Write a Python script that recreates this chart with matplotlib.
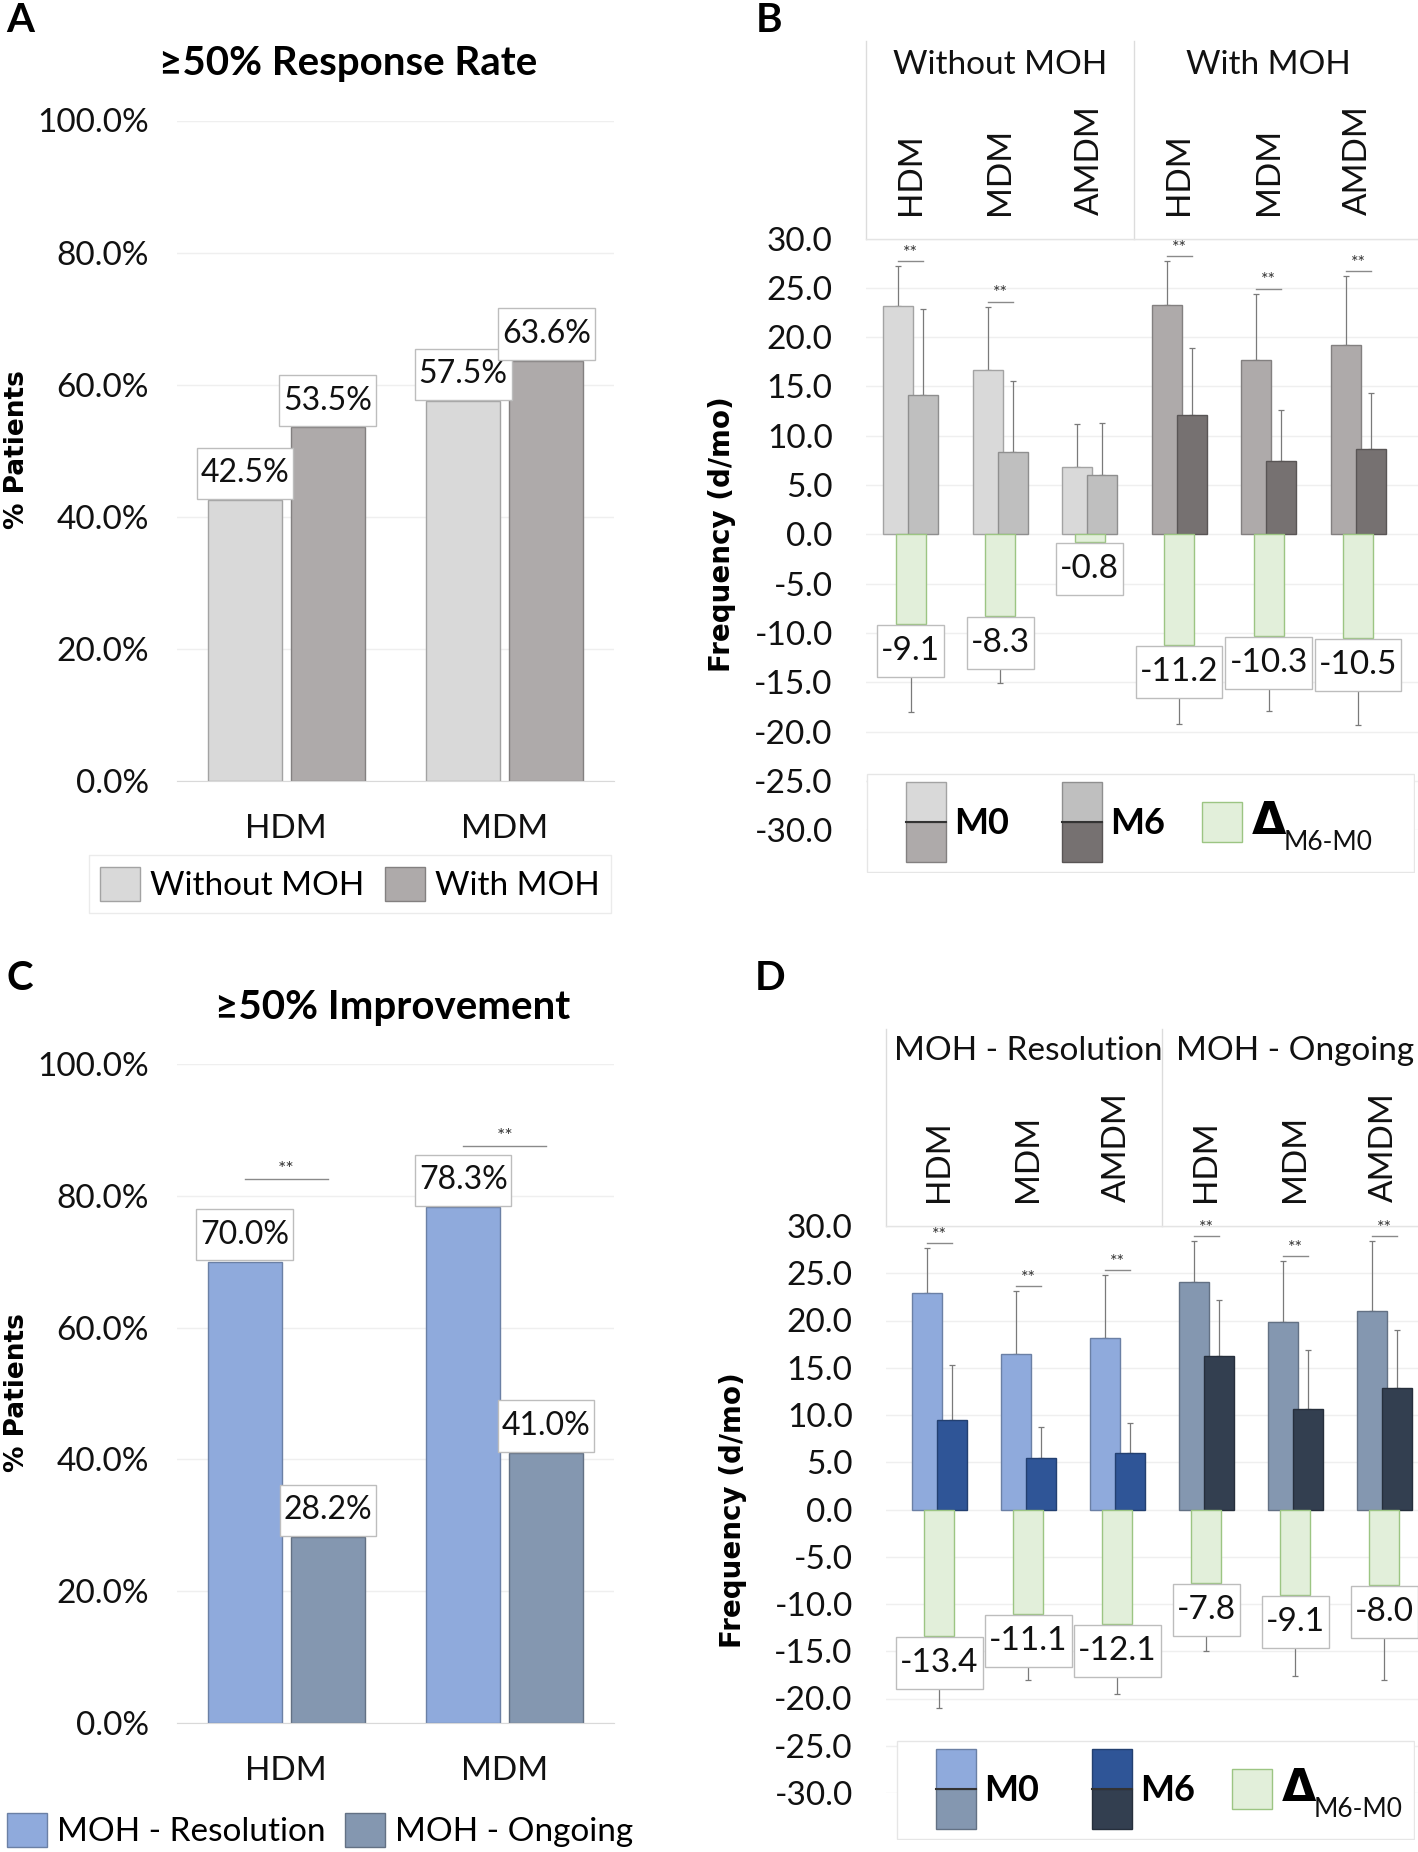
import matplotlib
matplotlib.use('Agg')
import matplotlib.pyplot as plt
import matplotlib.colors as mcolors
import matplotlib.transforms as mtransforms
from matplotlib.patches import Rectangle, Patch
from matplotlib.path import Path
import numpy as np

W, H = 1418, 1852
plt.rcParams['font.family'] = ['Lato', 'DejaVu Sans']

# ---------------- data ----------------
pct_cats = ['HDM', 'MDM']
a_without = [0.425, 0.575]
a_with = [0.535, 0.636]
c_resolution = [0.700, 0.783]
c_ongoing = [0.282, 0.410]
c_sig_y = [0.825, 0.875]

freq_cats = ['HDM', 'MDM', 'AMDM', 'HDM', 'MDM', 'AMDM']

b_groups = ['Without MOH', 'With MOH']
b_m0 = [23.2, 16.7, 6.8, 23.3, 17.7, 19.2]
b_m0_sd = [4.0, 6.4, 4.4, 4.4, 6.7, 7.0]
b_m6 = [14.1, 8.4, 6.0, 12.1, 7.4, 8.7]
b_m6_sd = [8.8, 7.2, 5.3, 6.8, 5.2, 5.6]
b_delta = [-9.1, -8.3, -0.8, -11.2, -10.3, -10.5]
b_delta_sd = [8.9, 6.8, 3.0, 8.0, 7.6, 8.8]
b_sig = [True, True, False, True, True, True]

d_groups = ['MOH - Resolution', 'MOH - Ongoing']
d_m0 = [22.9, 16.5, 18.1, 24.1, 19.8, 21.0]
d_m0_sd = [4.75, 6.6, 6.7, 4.3, 6.5, 7.4]
d_m6 = [9.5, 5.4, 6.0, 16.2, 10.6, 12.9]
d_m6_sd = [5.8, 3.3, 3.15, 6.0, 6.3, 6.1]
d_delta = [-13.4, -11.1, -12.1, -7.8, -9.1, -8.0]
d_delta_sd = [7.6, 6.9, 7.4, 7.2, 8.5, 10.0]
d_sig = [True, True, True, True, True, True]

# ---------------- colours ----------------
GRAY_L, GRAY_M = '#d9d9d9', '#aeaaaa'
GRAY_L6, GRAY_D6 = '#bfbfbf', '#767171'
BLUE_L, BLUE_G = '#8faadc', '#8497b0'
BLUE_D, NAVY = '#2f5597', '#333f50'
GREEN, GREEN_E = '#e2efda', '#9cc583'
GRID = '#efefef'
TXT = '#111111'


def darker(c, f=0.75):
    r, g, b = mcolors.to_rgb(c)
    return (r * f, g * f, b * f)


def box(px):
    # px = (left, top, right, bottom) in figure pixels
    l, t, r, b = px
    return [l / W, 1 - b / H, (r - l) / W, (b - t) / H]


def label_box(x0, y0, width, height, mutation_size):
    # data label frame: little side padding, more top/bottom padding
    px, py = 0.12 * mutation_size, 0.33 * mutation_size
    l, b, r, t = x0 - px, y0 - py, x0 + width + px, y0 + height + py
    return Path([(l, b), (r, b), (r, t), (l, t), (l, b)], closed=True)


LBL_BOX = dict(boxstyle=label_box, fc='white', ec='#bdbdbd', lw=1)

fig = plt.figure(figsize=(W / 100, H / 100), dpi=100)


def pct_panel(ax, left_vals, right_vals, left_col, right_col):
    x = np.arange(len(pct_cats))
    ax.bar(x - 0.19, left_vals, 0.34, color=left_col, edgecolor=darker(left_col), lw=1, zorder=2)
    ax.bar(x + 0.19, right_vals, 0.34, color=right_col, edgecolor=darker(right_col), lw=1, zorder=2)
    for xs, vals in ((x - 0.19, left_vals), (x + 0.19, right_vals)):
        for xi, v in zip(xs, vals):
            ax.annotate(f'{v * 100:.1f}%', (xi, v), xytext=(0, 8.5), textcoords='offset points',
                        ha='center', va='bottom', fontsize=23, color=TXT, zorder=5, bbox=LBL_BOX)
    ax.set_xlim(-0.5, 1.5)
    ax.set_ylim(0, 1.0)
    ax.set_yticks(np.arange(0, 1.01, 0.2))
    ax.set_yticklabels([f'{v * 100:.1f}%' for v in np.arange(0, 1.01, 0.2)])
    ax.set_xticks(x)
    ax.set_xticklabels(pct_cats)
    ax.tick_params(axis='y', length=0, pad=20, labelsize=24, labelcolor=TXT)
    ax.tick_params(axis='x', length=0, pad=24, labelsize=24, labelcolor=TXT)
    for s in ('top', 'right', 'left'):
        ax.spines[s].set_visible(False)
    ax.spines['bottom'].set_color('#d9d9d9')
    ax.yaxis.grid(True, color=GRID, lw=1)
    ax.set_axisbelow(True)


def freq_panel(ax, m0, m0_sd, m6, m6_sd, delta, delta_sd, sig, m0_cols, m6_cols,
               xlim, groups, head):
    x = np.arange(len(m0))
    zero = np.zeros(len(m0))
    ax.bar(x - 0.14, m0, 0.335, color=m0_cols, edgecolor=[darker(c) for c in m0_cols], lw=1, zorder=2)
    ax.bar(x + 0.14, m6, 0.335, color=m6_cols, edgecolor=[darker(c) for c in m6_cols], lw=1, zorder=2)
    ax.bar(x, delta, 0.335, color=GREEN, edgecolor=GREEN_E, lw=1, zorder=2)
    ek = dict(fmt='none', ecolor='#7a7a7a', elinewidth=0.9, capsize=2.5, capthick=0.9, zorder=1.5)
    ax.errorbar(x - 0.14, m0, yerr=[zero, m0_sd], **ek)
    ax.errorbar(x + 0.14, m6, yerr=[zero, m6_sd], **ek)
    ax.errorbar(x, delta, yerr=[delta_sd, zero], **ek)
    for xi, d in zip(x, delta):
        ax.annotate(f'{d:.1f}', (xi, d), xytext=(0, -8.5), textcoords='offset points',
                    ha='center', va='top', fontsize=24, color=TXT, zorder=5, bbox=LBL_BOX)
    for xi, a, sa, b, sb, s in zip(x, m0, m0_sd, m6, m6_sd, sig):
        if not s:
            continue
        y = max(a + sa, b + sb) + 0.5
        ax.plot([xi - 0.14, xi + 0.14], [y, y], color='#8a8a8a', lw=1, zorder=3)
        ax.text(xi, y + 0.05, '**', ha='center', va='bottom', fontsize=13, color='#333333')
    ax.set_xlim(*xlim)
    ax.set_ylim(-30, 30)
    ticks = np.arange(-30, 31, 5)
    ax.set_yticks(ticks)
    ax.set_yticklabels([f'{t:.1f}' for t in ticks])
    ax.set_xticks([])
    ax.tick_params(axis='y', length=0, pad=24, labelsize=24, labelcolor=TXT)
    for s in ax.spines.values():
        s.set_visible(False)
    ax.yaxis.grid(True, color=GRID, lw=1)
    ax.set_axisbelow(True)
    # header with group / category names
    top, text_y, rot_y = head
    tr = mtransforms.blended_transform_factory(ax.transData, ax.transAxes)
    for xv in (xlim[0], 2.5):
        ax.plot([xv, xv], [1, top], transform=tr, clip_on=False, color='#dcdcdc', lw=1)
    ax.plot([xlim[0], xlim[1]], [1, 1], transform=tr, clip_on=False, color='#e4e4e4', lw=1)
    for gx, g in zip((1, 4), groups):
        ax.text(gx, text_y, g, transform=tr, ha='center', va='center', fontsize=24, color=TXT)
    for xi, c in zip(x, freq_cats):
        ax.text(xi, rot_y, c, transform=tr, rotation=90, ha='center', va='bottom',
                fontsize=24, color=TXT)


def freq_legend(x0, y0, x1, cols):
    y1 = y0 + 100
    lx = fig.add_axes(box((x0, y0, x1, y1)), zorder=5)
    lx.set_xlim(x0, x1)
    lx.set_ylim(y1, y0)
    lx.axis('off')
    lx.add_patch(Rectangle((x0 + 1, y0 + 1), x1 - x0 - 2, 98, fc='white', ec='#e6e6e6', lw=1))
    m0t, m0b, m6t, m6b = cols
    for px, ct, cb, lab in ((x0 + 40, m0t, m0b, 'M0'), (x0 + 196, m6t, m6b, 'M6')):
        lx.add_patch(Rectangle((px, y0 + 9), 40, 40, fc=ct, ec=darker(ct), lw=1))
        lx.add_patch(Rectangle((px, y0 + 49), 40, 40, fc=cb, ec=darker(cb), lw=1))
        lx.plot([px, px + 40], [y0 + 49, y0 + 49], color='#333333', lw=1.5)
        lx.text(px + 48, y0 + 51, lab, ha='left', va='center', fontsize=26,
                fontweight='bold', color='black')
    lx.add_patch(Rectangle((x0 + 336, y0 + 29), 40, 40, fc=GREEN, ec=GREEN_E, lw=1))
    lx.text(x0 + 386, y0 + 49, 'Δ', ha='left', va='center', fontsize=32,
            fontweight='bold', family='DejaVu Sans', color='black')
    lx.text(x0 + 418, y0 + 70, 'M6-M0', ha='left', va='center', fontsize=19, color=TXT)


# ---------------- panel A ----------------
axA = fig.add_axes(box((177, 120.5, 614, 780.6)))
pct_panel(axA, a_without, a_with, GRAY_L, GRAY_M)
legA = axA.legend([Patch(fc=GRAY_L, ec=darker(GRAY_L)), Patch(fc=GRAY_M, ec=darker(GRAY_M))],
                  ['Without MOH', 'With MOH'], loc='center', ncol=2,
                  bbox_to_anchor=(350 / W, 1 - 884 / H), bbox_transform=fig.transFigure,
                  fontsize=24, fancybox=False, edgecolor='#e6e6e6', handlelength=1.2,
                  handleheight=1.2, handletextpad=0.3, columnspacing=0.6, borderpad=0.35)
legA.get_frame().set_linewidth(1)

# ---------------- panel C ----------------
axC = fig.add_axes(box((177, 1064, 614, 1723)))
pct_panel(axC, c_resolution, c_ongoing, BLUE_L, BLUE_G)
for xi, y in zip(np.arange(len(pct_cats)), c_sig_y):
    axC.plot([xi - 0.19, xi + 0.19], [y, y], color='#8a8a8a', lw=1)
    axC.text(xi, y + 0.002, '**', ha='center', va='bottom', fontsize=14, color='#333333')
axC.legend([Patch(fc=BLUE_L, ec=darker(BLUE_L)), Patch(fc=BLUE_G, ec=darker(BLUE_G))],
           ['MOH - Resolution', 'MOH - Ongoing'], loc='center', ncol=2,
           bbox_to_anchor=(320 / W, 1 - 1830 / H), bbox_transform=fig.transFigure,
           fontsize=24, frameon=False, handlelength=1.2, handleheight=1.2,
           handletextpad=0.3, columnspacing=0.6)

# ---------------- panel B ----------------
axB = fig.add_axes(box((866, 238.6, 1418, 830.2)))
freq_panel(axB, b_m0, b_m0_sd, b_m6, b_m6_sd, b_delta, b_delta_sd, b_sig,
           [GRAY_L] * 3 + [GRAY_M] * 3, [GRAY_L6] * 3 + [GRAY_D6] * 3,
           (-0.5, 5.67), b_groups, (1.334, 1.294, 1.04))
freq_legend(866, 773, 1415, (GRAY_L, GRAY_M, GRAY_L6, GRAY_D6))

# ---------------- panel D ----------------
axD = fig.add_axes(box((886, 1226, 1418, 1793)))
freq_panel(axD, d_m0, d_m0_sd, d_m6, d_m6_sd, d_delta, d_delta_sd, d_sig,
           [BLUE_L] * 3 + [BLUE_G] * 3, [BLUE_D] * 3 + [NAVY] * 3,
           (-0.6, 5.38), d_groups, (1.347, 1.308, 1.042))
freq_legend(896, 1740, 1415, (BLUE_L, BLUE_G, BLUE_D, NAVY))

# ---------------- titles / labels ----------------
fig.text(348 / W, 1 - 63 / H, '≥50% Response Rate', ha='center', va='center',
         fontsize=29, fontweight='bold', color='black')
fig.text(393 / W, 1 - 1007 / H, '≥50% Improvement', ha='center', va='center',
         fontsize=29, fontweight='bold', color='black')
for lab, px, py in (('A', 20, 21), ('B', 769, 21), ('C', 20, 979), ('D', 770, 978)):
    fig.text(px / W, 1 - py / H, lab, ha='center', va='center', fontsize=29,
             fontweight='bold', color='black')
for lab, px, py, fs in (('% Patients', 17, 450, 19), ('% Patients', 17, 1393, 19),
                        ('Frequency (d/mo)', 722, 534, 20), ('Frequency (d/mo)', 733, 1510, 20)):
    fig.text(px / W, 1 - py / H, lab, rotation=90, ha='center', va='center',
             fontsize=fs, fontweight='bold', family='DejaVu Sans', color='black')

fig.savefig('out.png', dpi=100)
